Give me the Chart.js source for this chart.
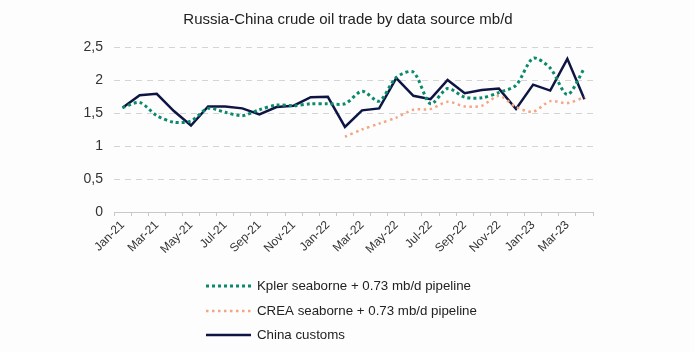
<!DOCTYPE html>
<html>
<head>
<meta charset="utf-8">
<script src="https://cdn.jsdelivr.net/npm/chart.js@4.4.0/dist/chart.umd.min.js"></script>
<style>
  html, body { margin: 0; padding: 0; background: #fdfdfd; }
</style>
</head>
<body>
<canvas id="oil-chart" width="695" height="352"></canvas>
<script>
const months = ['Jan-21', 'Feb-21', 'Mar-21', 'Apr-21', 'May-21', 'Jun-21', 'Jul-21', 'Aug-21', 'Sep-21', 'Oct-21', 'Nov-21', 'Dec-21',
    'Jan-22', 'Feb-22', 'Mar-22', 'Apr-22', 'May-22', 'Jun-22', 'Jul-22', 'Aug-22', 'Sep-22', 'Oct-22', 'Nov-22', 'Dec-22',
    'Jan-23', 'Feb-23', 'Mar-23', 'Apr-23'];

const kpler = [1.58, 1.66, 1.46, 1.36, 1.38, 1.57, 1.51, 1.46, 1.55, 1.62, 1.61, 1.64,
    1.64, 1.64, 1.83, 1.68, 2.04, 2.12, 1.64, 1.87, 1.74, 1.73, 1.81, 1.92,
    2.33, 2.18, 1.78, 2.18];

const crea = [null, null, null, null, null, null, null, null, null, null, null, null,
    null, 1.14, 1.25, 1.34, 1.43, 1.55, 1.56, 1.67, 1.60, 1.61, 1.76, 1.59,
    1.52, 1.68, 1.65, 1.74];

const customs = [1.58, 1.77, 1.79, 1.53, 1.31, 1.60, 1.60, 1.57, 1.48, 1.59, 1.61, 1.74,
    1.745, 1.29, 1.54, 1.57, 2.03, 1.76, 1.71, 2.00, 1.80, 1.85, 1.87, 1.56,
    1.93, 1.84, 2.32, 1.71];

const yTicks = [0, 0.5, 1, 1.5, 2, 2.5];

const titleText = 'Russia-China crude oil trade by data source mb/d';
const font = '"Liberation Sans", Arial, sans-serif';

// title and the stacked legend below the axis, drawn by hand like the original
const extras = {
    id: 'extras',
    afterDraw(chart) {
        const ctx = chart.ctx;
        ctx.save();
        ctx.fillStyle = '#222';
        ctx.font = '15px ' + font;
        ctx.textAlign = 'center';
        ctx.textBaseline = 'middle';
        ctx.fillText(titleText, 348, 20);

        ctx.font = '13.3px ' + font;
        ctx.textAlign = 'left';
        const rows = [286, 311, 335];
        chart.data.datasets.forEach((ds, i) => {
            const y = rows[i];
            ctx.beginPath();
            ctx.strokeStyle = ds.borderColor;
            ctx.lineWidth = ds.borderWidth;
            ctx.setLineDash(ds.borderDash || []);
            ctx.moveTo(206, y);
            ctx.lineTo(251, y);
            ctx.stroke();
            ctx.setLineDash([]);
            ctx.fillStyle = '#222';
            ctx.fillText(ds.label, 257, y);
        });
        ctx.restore();
    }
};

new Chart(document.getElementById('oil-chart'), {
    type: 'line',
    data: {
        labels: months,
        datasets: [{
            label: 'Kpler seaborne + 0.73 mb/d pipeline',
            data: kpler,
            borderColor: '#0a8a6a',
            borderWidth: 3,
            borderDash: [3, 3],
            tension: 0.28,
            pointRadius: 0
        }, {
            label: 'CREA seaborne + 0.73 mb/d pipeline',
            data: crea,
            borderColor: '#f4a582',
            borderWidth: 2.5,
            borderDash: [2.5, 3.5],
            tension: 0.28,
            pointRadius: 0
        }, {
            label: 'China customs',
            data: customs,
            borderColor: '#0e1544',
            borderWidth: 2.5,
            tension: 0,
            pointRadius: 0
        }]
    },
    options: {
        responsive: false,
        animation: false,
        layout: { padding: { top: 47, right: 102, bottom: 0, left: 0 } },
        plugins: {
            legend: { display: false },
            title: { display: false },
            tooltip: { enabled: false }
        },
        scales: {
            x: {
                offset: true,
                afterFit: (s) => { s.height = 140; },
                grid: {
                    offset: true,
                    drawOnChartArea: false,
                    drawTicks: true,
                    tickLength: 4,
                    color: '#c8c8c8'
                },
                border: { color: '#c8c8c8' },
                ticks: {
                    autoSkip: false,
                    maxRotation: 45,
                    minRotation: 45,
                    padding: 2,
                    color: '#333',
                    font: { size: 12, family: font },
                    callback: (v, i) => (i % 2 === 0 ? months[i] : '')
                }
            },
            y: {
                min: 0,
                max: 2.5,
                afterFit: (s) => { s.width = 114; },
                afterBuildTicks: (s) => { s.ticks = yTicks.map(v => ({ value: v })); },
                grid: {
                    color: (c) => (c.tick.value === 0 ? 'rgba(0,0,0,0)' : '#d4d4d4'),
                    drawTicks: false
                },
                border: { display: false, dash: [6, 5] },
                ticks: {
                    padding: 11,
                    color: '#333',
                    font: { size: 14, family: font },
                    callback: (v) => String(v).replace('.', ',')
                }
            }
        }
    },
    plugins: [extras]
});
</script>
</body>
</html>
